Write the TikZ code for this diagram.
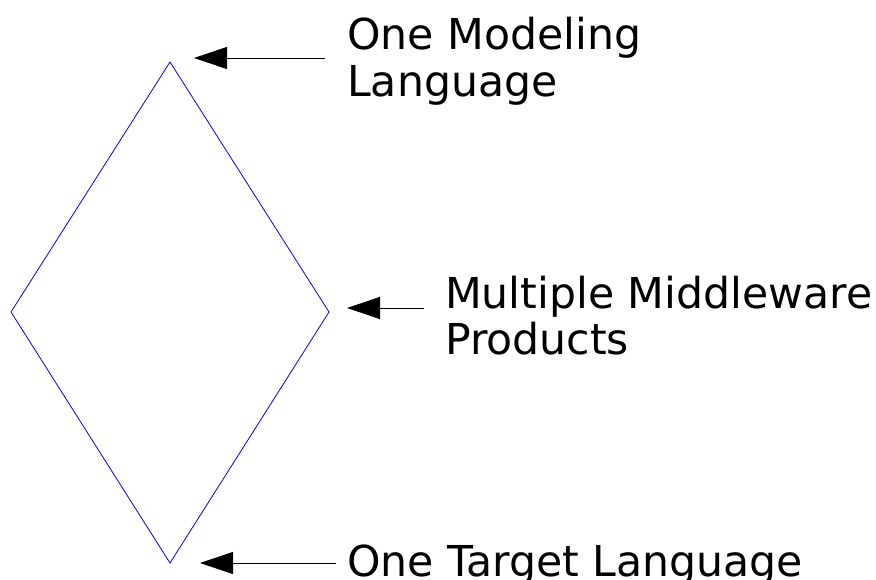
\documentclass[tikz,border=0pt]{standalone}
\usepackage{fontspec}
\setmainfont{DejaVu Sans}
\usetikzlibrary{arrows.meta}
\begin{document}
\begin{tikzpicture}[x=1pt,y=-1pt,
  label text/.style={inner sep=0pt,align=left,anchor=base west,
    font=\fontsize{42.6}{46.5}\selectfont},
  pointer/.style={draw=black,line width=0.9pt,-{Triangle[length=33pt,width=22pt]}}]
  \useasboundingbox (0,0) rectangle (876,580);
  % the diamond
  \draw[blue,line width=0.8pt] (170,62) coordinate (top) -- (329,312) coordinate (right)
    -- (170,563) coordinate (bottom) -- (11,312) coordinate (left) -- cycle;
  % labels (base anchor sits on the last line)
  \node[label text] (model) at (347,96.5) {One Modeling\\Language};
  \node[label text] (middle) at (445,354.5) {Multiple Middleware\\Products};
  \node[label text] (target) at (347,576) {One Target Language};
  % arrows pointing at the corners
  \coordinate (t0) at (325,58);  \coordinate (t1) at (194,58);
  \coordinate (m0) at (424,308); \coordinate (m1) at (347,308);
  \coordinate (b0) at (336,563); \coordinate (b1) at (200,563);
  \draw[pointer] (t0) -- (t1);
  \draw[pointer] (m0) -- (m1);
  \draw[pointer] (b0) -- (b1);
\end{tikzpicture}
\end{document}
